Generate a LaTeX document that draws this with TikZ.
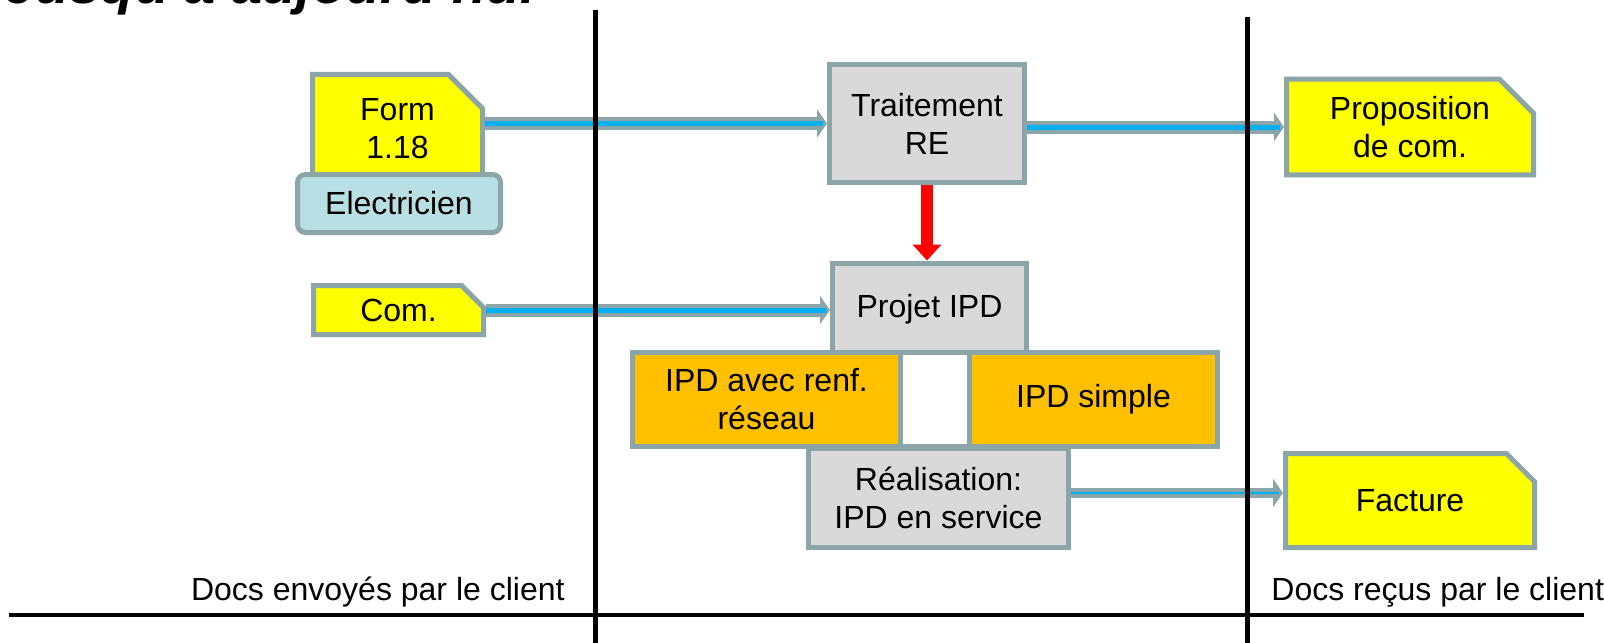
\documentclass[tikz,border=0pt]{standalone}
\usepackage{fontspec}
\setmainfont{Liberation Sans}
\usetikzlibrary{arrows.meta, positioning, shapes.misc}
\definecolor{boxline}{RGB}{140,165,168}
\definecolor{docyellow}{RGB}{255,255,0}
\definecolor{stepgrey}{RGB}{217,217,217}
\definecolor{optorange}{RGB}{255,192,0}
\definecolor{actorblue}{RGB}{184,223,227}
\definecolor{flowblue}{RGB}{0,176,240}
\tikzset{
  box/.style={rectangle, draw=boxline, line width=2.5pt, inner sep=0pt,
              align=center, font=\fontsize{16pt}{19pt}\selectfont},
  doc/.style={box, chamfered rectangle, chamfered rectangle corners=north east,
              chamfered rectangle xsep=8.5pt, chamfered rectangle ysep=8.5pt,
              fill=docyellow},
  stepbox/.style={box, fill=stepgrey},
  option/.style={box, fill=optorange},
  actor/.style={box, fill=actorblue, rounded corners=4pt},
  flow/.style={draw=boxline, line width=6.5pt,
               -{Triangle[length=5pt, width=14pt]}},
  flowcore/.style={draw=flowblue, line width=2.5pt, shorten >=2pt},
  redarr/.style={draw=red, line width=6pt,
                 -{Triangle[length=8pt, width=14pt]}},
  sep/.style={draw=black, line width=2.5pt},
  lbl/.style={font=\fontsize{16pt}{19pt}\selectfont, inner sep=0pt},
}

\begin{document}
\begin{tikzpicture}[x=0.5pt, y=-0.5pt,
  title/.style={font=\fontsize{28pt}{32pt}\selectfont\bfseries\itshape, inner sep=0pt},
]
  \useasboundingbox (0,0) rectangle (1604,642);

  % cut-off heading
  \node[title, anchor=base west] (title) at (4,4) {Jusqu'à aujourd'hui};

  % client side
  \node[doc, minimum width=85pt, minimum height=54.5pt] (form) at (397.5,129) {Form\\1.18};
  \node[actor, minimum width=101.5pt, minimum height=29pt] (elec) at (399,203.5) {Electricien};
  \node[doc, chamfered rectangle xsep=5.5pt, chamfered rectangle ysep=5.5pt,
        minimum width=85pt, minimum height=24.5pt] (com) at (398.5,310) {Com.};

  % processing
  \node[stepbox, minimum width=97.5pt, minimum height=59pt] (trait) at (927,123.5) {Traitement\\RE};
  \node[stepbox, minimum width=97pt, minimum height=46pt] (projet) at (929.5,309) {Projet IPD};
  \node[box, fill=white, minimum width=292.5pt, minimum height=47pt] (band) at (925,399.5) {};
  \node[option, minimum width=134pt, minimum height=47pt] (renf) at (766.5,399.5) {IPD avec renf.\\réseau};
  \node[option, minimum width=124pt, minimum height=47pt] (simple) at (1093.5,399.5) {IPD simple};
  \node[stepbox, minimum width=130pt, minimum height=49.5pt] (real) at (938.5,498) {Réalisation:\\IPD en service};

  % received documents
  \node[doc, minimum width=123.5pt, minimum height=47.5pt] (prop) at (1410,127) {Proposition\\de com.};
  \node[doc, minimum width=124.5pt, minimum height=47pt] (fact) at (1410,500.5) {Facture};

  \foreach \src/\dst in {com/projet} {
    \draw[flow] (\src.east) -- (\src.east -| \dst.west);
    \draw[flowcore] (\src.east) -- (\src.east -| \dst.west);
  }
  \draw[flow] (form.east |- trait.west) -- (trait.west);
  \draw[flowcore] (form.east |- trait.west) -- (trait.west);
  \draw[flow] (trait.east |- prop.west) -- (prop.west);
  \draw[flowcore] (trait.east |- prop.west) -- (prop.west);
  \draw[flow, line width=5pt] ([yshift=2.5pt]real.east) -- ([yshift=2.5pt]real.east -| fact.west);
  \draw[flowcore, line width=1pt] ([yshift=2.5pt]real.east) -- ([yshift=2.5pt]real.east -| fact.west);

  \draw[redarr] (trait.south) -- (trait.south |- projet.north);

  % separators
  \draw[sep] (595,10) -- (595,650);
  \draw[sep] (1247,17) -- (1247,650);
  \draw[sep, line width=2pt] (9,615) -- (1584,615);

  \node[lbl, anchor=base east] (sent) at (565,600) {Docs envoyés par le client};
  \node[lbl, anchor=base west] (recv) at (1271,600) {Docs reçus par le client};
\end{tikzpicture}
\end{document}
